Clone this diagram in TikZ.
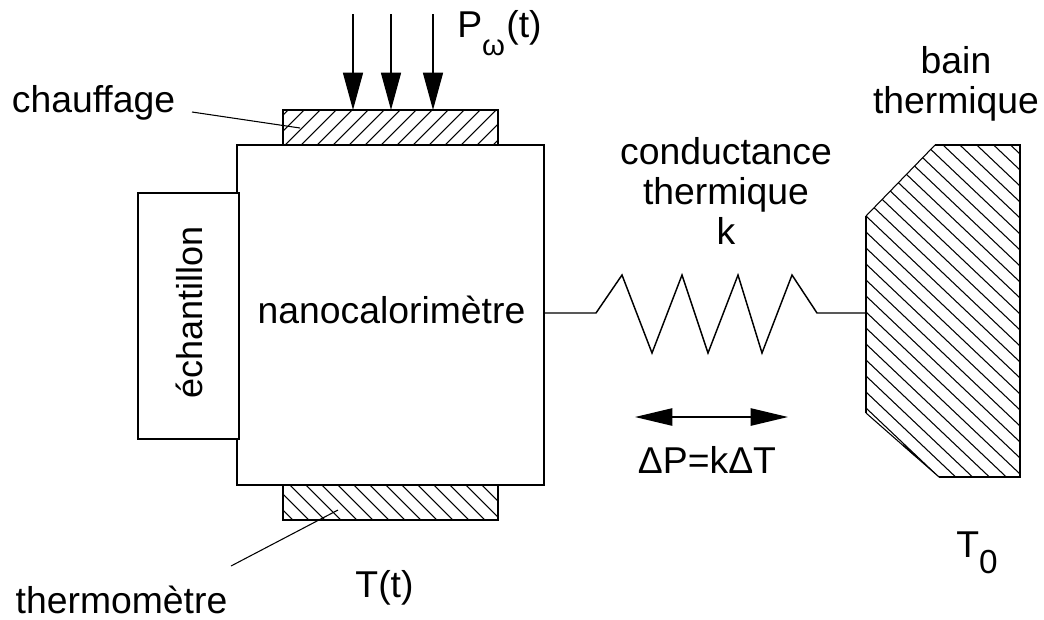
\documentclass[tikz,border=0pt]{standalone}
\usepackage{fontspec}
\setmainfont{Liberation Sans}
\usetikzlibrary{arrows.meta}
\def\px{0.75pt}
\begin{document}
\begin{tikzpicture}[
        x=\px, y=-\px,
        part/.style={rectangle, draw, line width=1.1pt, inner sep=0pt, outer sep=0pt},
        lab/.style={inner sep=0pt, font=\fontsize{28}{30}\selectfont, align=center},
        hatchline/.style={line width=0.8pt},
        wire/.style={line width=1.1pt},
        bigarrow/.style={line width=1.1pt, -{Triangle[length=28pt, width=15pt]}},
        >=stealth
    ]
        \useasboundingbox (0,0) rectangle (1044,619);
        % Nanocalorimeter and its layers
        \node[part, minimum width=307*\px, minimum height=340*\px] (Nano) at (390.5,315) {};
        \node[part, minimum width=215*\px, minimum height=35*\px] (Heat) at (390.5,127.5) {};
        \node[part, minimum width=215*\px, minimum height=35*\px] (Thermo) at (390.5,502.5) {};
        \node[part, fill=white, minimum width=101*\px, minimum height=246*\px] (Sample) at (188.5,316) {};
        % Hatching
        \begin{scope}
            \clip (Heat.south west) rectangle (Heat.north east);
            \foreach \i in {-2,...,14} {
                \draw[hatchline] ({285+16*\i},145) -- ++(35,-35);
            }
        \end{scope}
        \begin{scope}
            \clip (Thermo.south west) rectangle (Thermo.north east);
            \foreach \i in {-2,...,14} {
                \draw[hatchline] ({290+16*\i},485) -- ++(35,35);
            }
        \end{scope}
        % Thermal bath
        \coordinate (BathA) at (866,216);
        \coordinate (BathB) at (935,145);
        \coordinate (BathC) at (1020,145);
        \coordinate (BathD) at (1020,477);
        \coordinate (BathE) at (939,477);
        \coordinate (BathF) at (866,413);
        \coordinate (BathW) at (866,313);
        \coordinate (BathG) at (903,445);
        \coordinate (BathH) at (918,458);
        \begin{scope}
            \clip (BathA) -- (BathB) -- (BathC) -- (BathD) -- (BathE) -- (BathF) -- cycle;
            \foreach \i in {-16,...,12} {
                \draw[hatchline] (866,{232+16*\i}) -- (1020,{378+16*\i});
            }
        \end{scope}
        \draw[wire] (BathB) -- (BathC) -- (BathD) -- (BathE);
        \draw[hatchline] (BathA) -- (BathB);
        \draw[hatchline] (BathE) -- (BathF);
        \draw[wire] (BathF) -- (BathA);
        \draw[wire] (BathG) -- (BathH);
        % Heating power arrows
        \foreach \x/\n in {353/1,391/2,433/3} {
            \coordinate (In\n) at (\x,14);
            \draw[bigarrow] (In\n) -- (\x,110);
        }
        % Thermal conductance
        \draw[wire] (Nano.east |- BathW) -- (596,313) -- (622,275) -- (652,353) -- (682,275) -- (708,353)
            -- (738,275) -- (762,353) -- (792,275) -- (817,313) -- (BathW);
        \coordinate (FluxL) at (635,417);
        \coordinate (FluxR) at (788,417);
        \draw[wire, {Triangle[length=28pt, width=13pt]}-{Triangle[length=28pt, width=13pt]}] (FluxL) -- (FluxR);
        % Labels
        \node[lab, anchor=base west] (TitlePower) at (457,37) {P\raisebox{-14pt}{\fontsize{22}{22}\selectfont ω}\kern1pt(t)};
        \node[lab, anchor=base] (TitleHeat) at (93.5,112) {chauffage};
        \node[lab] (TitleBath) at (956,83.5) {bain\\thermique};
        \node[lab] (TitleCond) at (726,191) {conductance\\thermique\\k};
        \node[lab, anchor=base] (TitleNano) at (391.5,323) {nanocalorimètre};
        \node[lab, anchor=base, rotate=90, font=\fontsize{27}{30}\selectfont] (TitleSample) at (202,312.5) {échantillon};
        \node[lab, anchor=base] (TitleFlux) at (707,473) {ΔP=kΔT};
        \node[lab, anchor=base] (TitleT) at (384.5,597) {T(t)};
        \node[lab, anchor=base] (TitleThermo) at (121.5,613) {thermomètre};
        \node[lab, anchor=base west] (TitleBathT) at (956,557) {T\raisebox{-12pt}{\fontsize{25}{25}\selectfont 0}};
        % Leader lines
        \coordinate (LeadHeat) at (192,112);
        \coordinate (LeadHeatEnd) at (300,128);
        \coordinate (LeadThermo) at (231,566);
        \coordinate (LeadThermoEnd) at (338,510);
        \draw[line width=0.8pt] (LeadHeat) -- (LeadHeatEnd);
        \draw[line width=0.8pt] (LeadThermo) -- (LeadThermoEnd);
    \end{tikzpicture}
\end{document}
